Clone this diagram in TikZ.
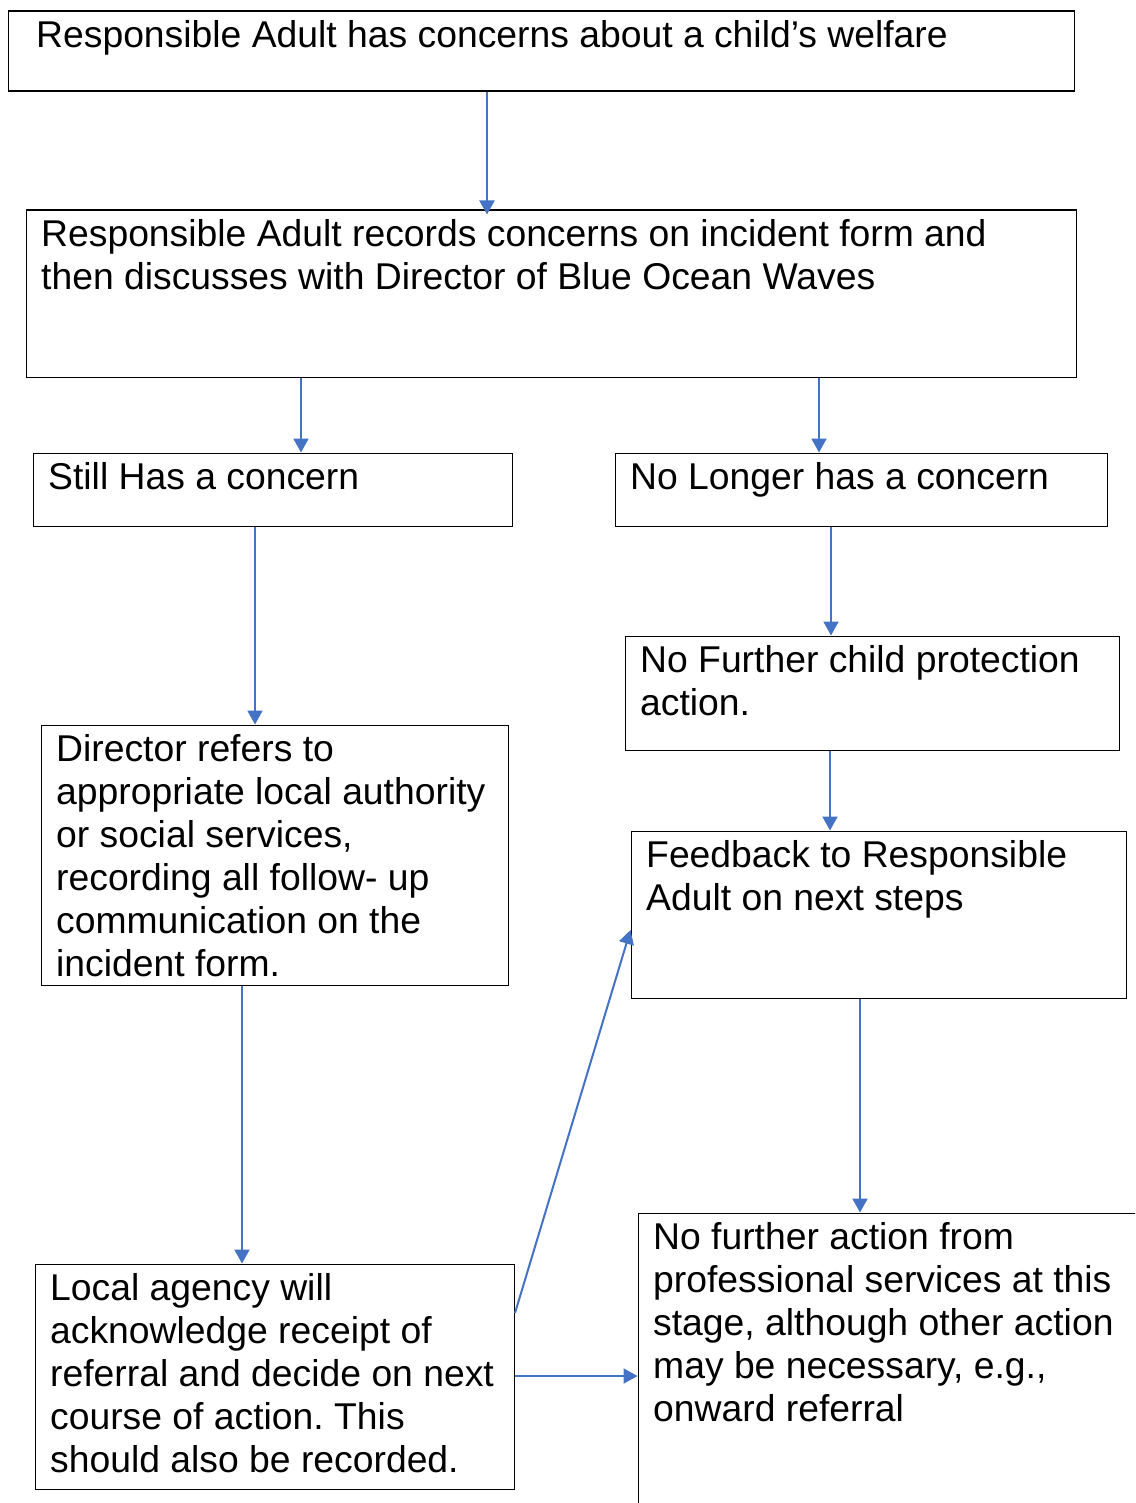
\documentclass[tikz,border=0pt]{standalone}
\usepackage{fontspec}
\setmainfont{Liberation Sans}
\usetikzlibrary{arrows.meta}
\definecolor{arrowblue}{HTML}{4472C4}
\newcommand\firstline{\rule{0pt}{36pt}}
\frenchspacing
\begin{document}
\begin{tikzpicture}[x=1pt,y=-1pt,
  box/.style={draw=black,line width=1.5pt,anchor=north west,inner sep=0pt,minimum width=#1},
  txt/.style={anchor=north west,inner sep=0pt,align=left,font={\fontsize{37.3pt}{43pt}\selectfont\frenchspacing}},
  arr/.style={draw=arrowblue,line width=2pt,-{Triangle[length=14pt,width=15pt]}}]
\useasboundingbox (0,0) rectangle (1135,1503);
\clip (0,0) rectangle (1135,1503);
% boxes
\node[box=1066pt,minimum height=80pt] (A) at (7.5,10.5) {};
\node[box=1050pt,minimum height=167pt] (B) at (25.5,209.5) {};
\node[box=479pt,minimum height=73pt] (C) at (32.5,452.5) {};
\node[box=492pt,minimum height=73pt] (D) at (614.5,452.5) {};
\node[box=494pt,minimum height=114pt] (E) at (624.5,635.5) {};
\node[box=467pt,minimum height=260pt] (F) at (40.5,724.5) {};
\node[box=495pt,minimum height=167pt] (G) at (630.5,830.5) {};
\node[box=479pt,minimum height=225pt] (H) at (34.5,1263.5) {};
\node[box=520pt,minimum height=320pt] (I) at (637.5,1212.5) {};
% texts
\node[txt] (tA) at (36,11) {\firstline Responsible Adult has concerns about a child’s welfare};
\node[txt] (tB) at (41,210) {\firstline Responsible Adult records concerns on incident form and\\then discusses with Director of Blue Ocean Waves};
\node[txt] (tC) at (48,453) {\firstline Still Has a concern};
\node[txt] (tD) at (630,453) {\firstline No Longer has a concern};
\node[txt] (tE) at (640,636) {\firstline No Further child protection\\action.};
\node[txt] (tF) at (56,725) {\firstline Director refers to\\appropriate local authority\\or social services,\\recording all follow- up\\communication on the\\incident form.};
\node[txt] (tG) at (646,831) {\firstline Feedback to Responsible\\Adult on next steps};
\node[txt] (tH) at (50,1264) {\firstline Local agency will\\acknowledge receipt of\\referral and decide on next\\course of action. This\\should also be recorded.};
\node[txt] (tI) at (653,1213) {\firstline No further action from\\professional services at this\\stage, although other action\\may be necessary, e.g.,\\onward referral};
% connectors
\draw[arr] (A.south -| 487,0) -- ([yshift=-5pt]B.north -| 487,0);
\draw[arr] (B.south -| 301,0) -- (C.north -| 301,0);
\draw[arr] (B.south -| 819,0) -- (D.north -| 819,0);
\draw[arr] (C.south -| 255,0) -- (F.north -| 255,0);
\draw[arr] (D.south -| 831,0) -- (E.north -| 831,0);
\draw[arr] (E.south -| 830,0) -- (G.north -| 830,0);
\draw[arr] (F.south -| 242,0) -- (H.north -| 242,0);
\draw[arr] (G.south -| 860,0) -- (I.north -| 860,0);
\draw[arr] (H.east |- 0,1313) -- (G.west |- 0,930);
\draw[arr] (H.east |- 0,1376) -- (I.west |- 0,1376);
\end{tikzpicture}
\end{document}
